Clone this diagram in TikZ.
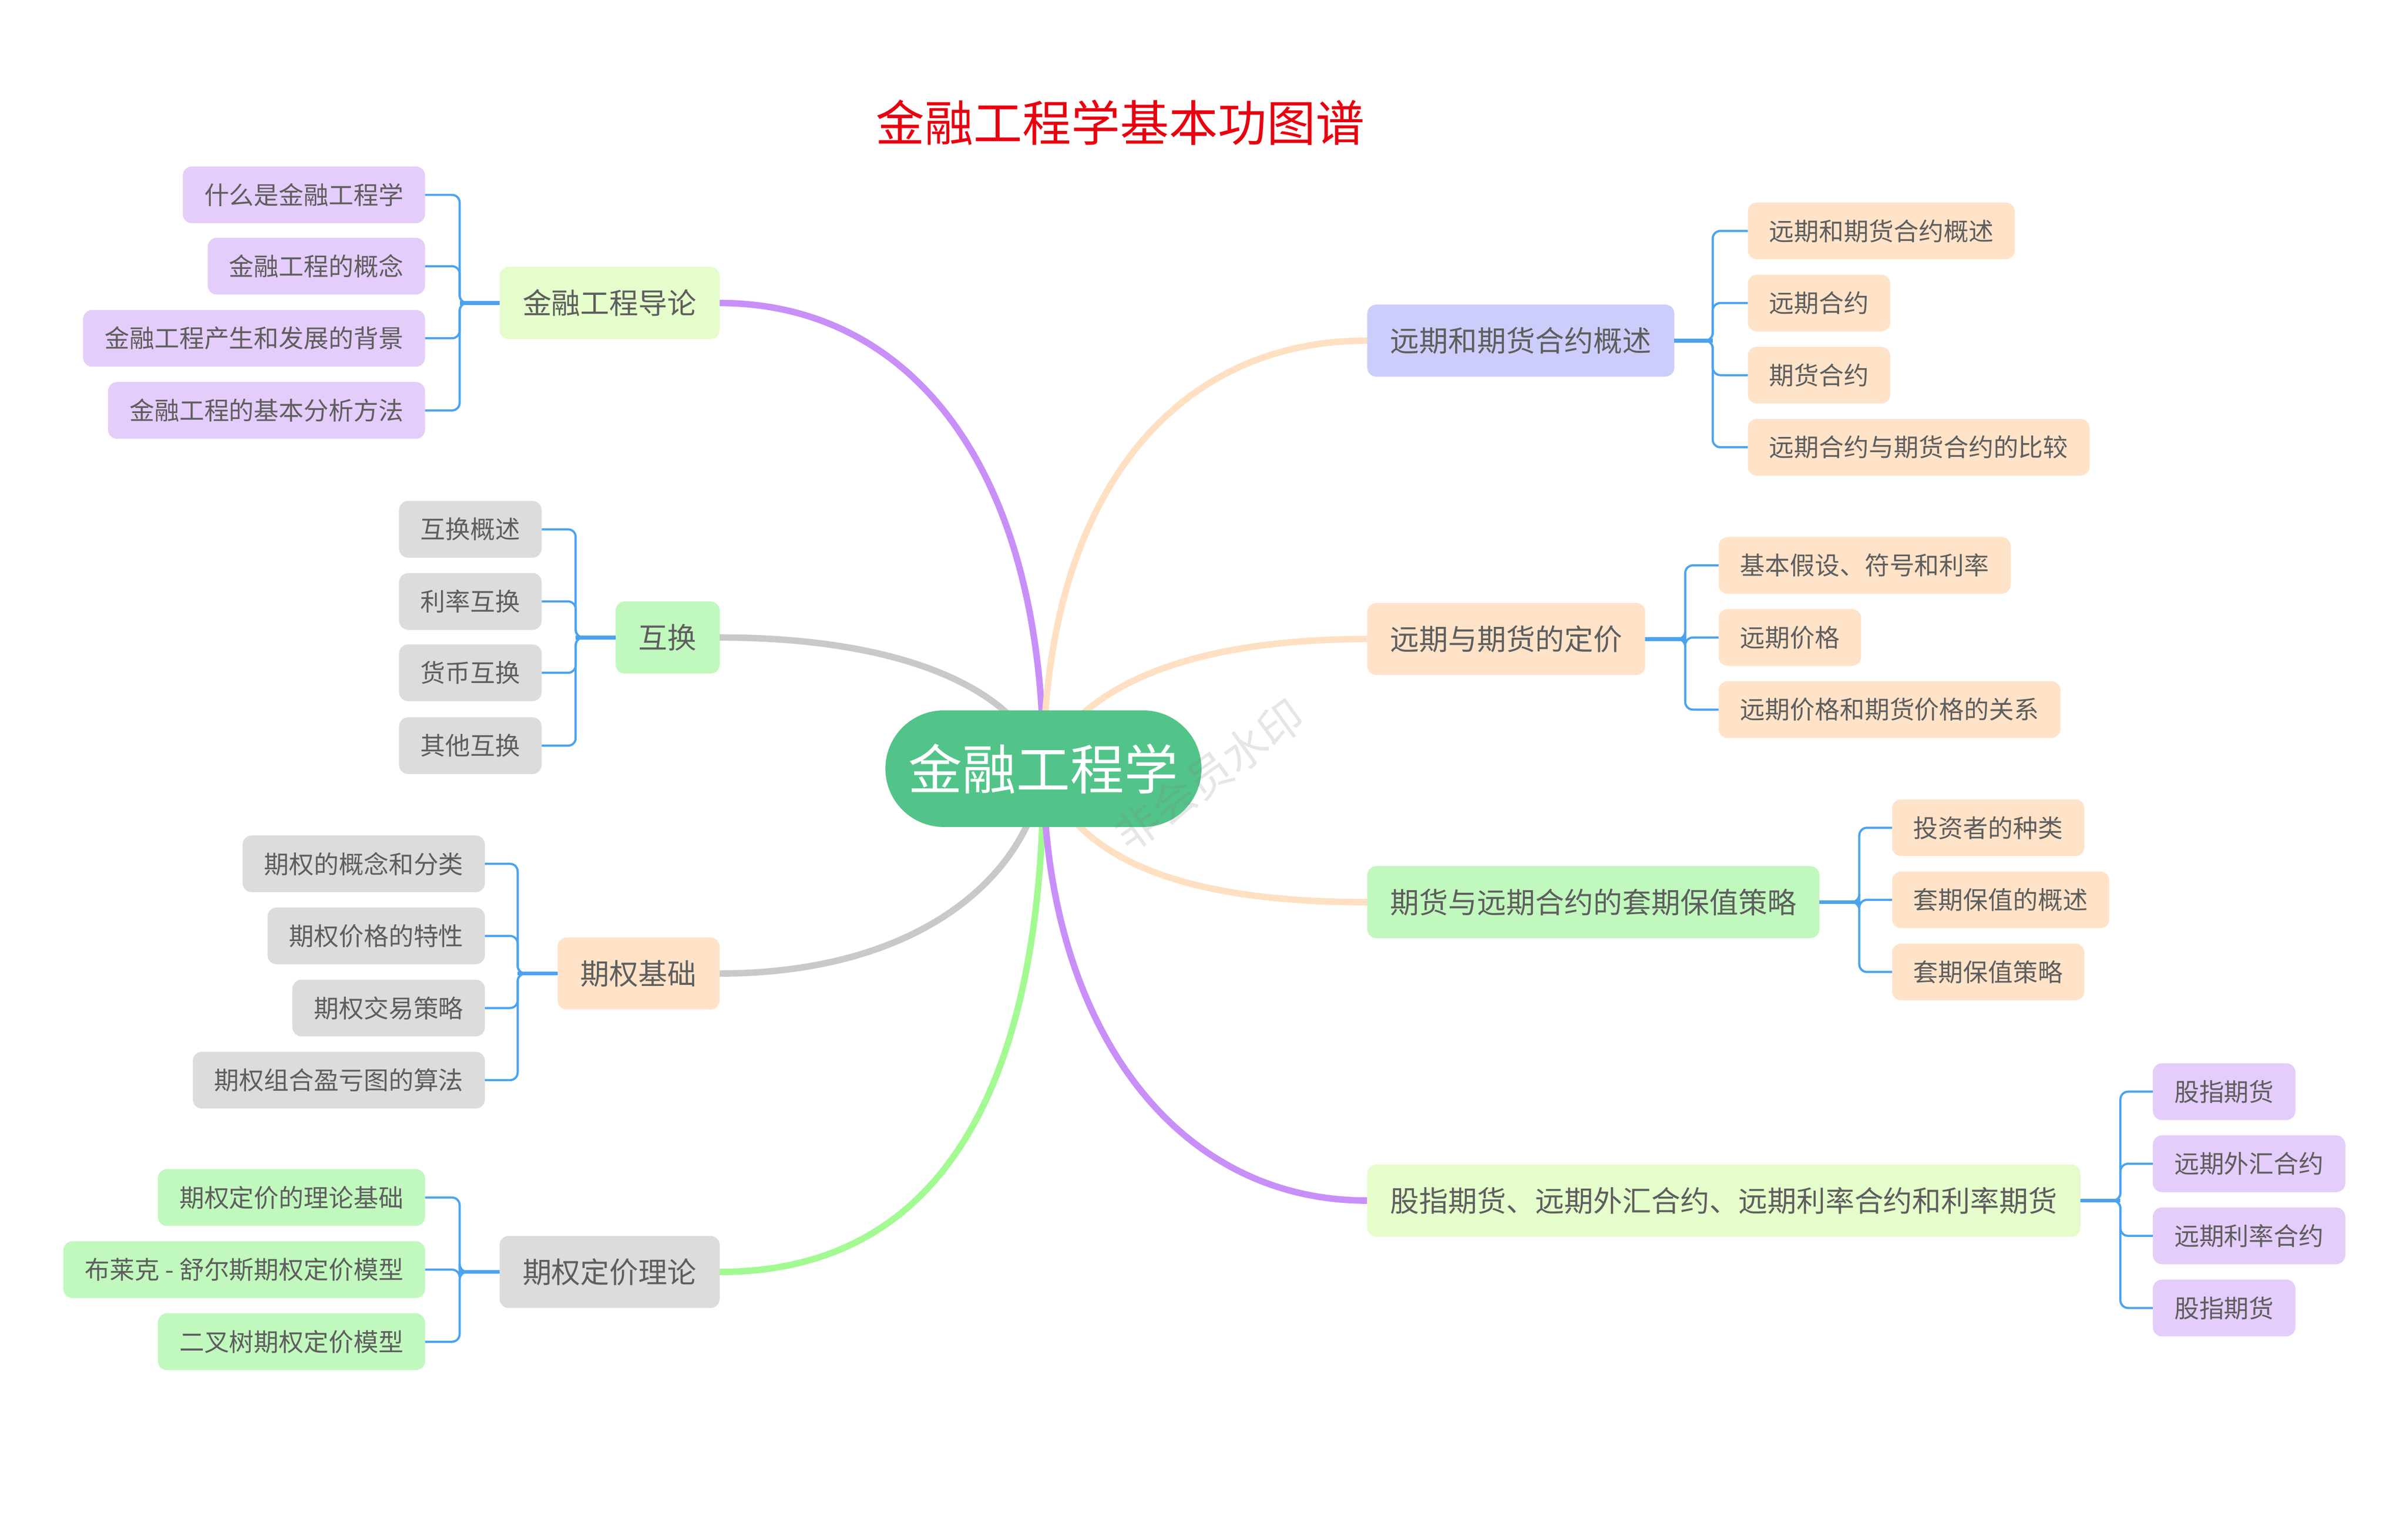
\documentclass[tikz,border=0pt]{standalone}
\usepackage{fontspec}
\newfontfamily\cjk{Noto Sans CJK SC}
\usetikzlibrary{backgrounds}
\definecolor{txt}{HTML}{5E5E5E}
\definecolor{titlered}{HTML}{E8000F}
\definecolor{rootgreen}{HTML}{52C48A}
\definecolor{lineblue}{HTML}{4BA3EF}
\definecolor{purpleline}{HTML}{C98FF8}
\definecolor{grayline}{HTML}{C9C9C9}
\definecolor{greenline}{HTML}{A3FA92}
\definecolor{peachline}{HTML}{FFE0C2}
\definecolor{purplebox}{HTML}{E4CDFA}
\definecolor{graybox}{HTML}{DCDCDC}
\definecolor{greenbox}{HTML}{C1F8BE}
\definecolor{peachbox}{HTML}{FFE3C9}
\definecolor{limebox}{HTML}{E5FCCB}
\definecolor{bluebox}{HTML}{CDCDFB}

\begin{document}
\begin{tikzpicture}[x=0.05cm,y=-0.05cm,
  leaf/.style={fill=#1,rounded corners=0.3cm,minimum height=1.85cm,inner xsep=0.7cm,inner ysep=0pt,outer sep=0pt,text=txt,font=\cjk\fontsize{23.1}{24}\selectfont},
  topic/.style={fill=#1,rounded corners=0.3cm,minimum height=2.35cm,inner xsep=0.75cm,inner ysep=0pt,outer sep=0pt,text=txt,font=\cjk\fontsize{26.9}{28}\selectfont},
  branch/.style={draw=#1,line width=6pt},
  bracket/.style={draw=lineblue,line width=2pt,rounded corners=0.25cm},
  stub/.style={draw=lineblue,line width=3.5pt}]
\useasboundingbox (0,0) rectangle (1568,1003.4);
\node[text=titlered,font=\cjk\fontsize{45.3}{48}\selectfont] (title) at (730,80) {金融工程学基本功图谱};
\node[fill=rootgreen,rounded corners=1.9cm,minimum height=3.8cm,minimum width=10.3cm,inner sep=0pt,text=white,font=\cjk\fontsize{50}{52}\selectfont] (root) at (680,501) {金融工程学};

\node[topic=limebox,anchor=east] (intro) at (469,197.5) {金融工程导论};
\node[topic=greenbox,anchor=east] (swap) at (469,415.5) {互换};
\node[topic=peachbox,anchor=east] (optbase) at (469,634.5) {期权基础};
\node[topic=graybox,anchor=east] (optprice) at (469,829) {期权定价理论};
\node[topic=bluebox,anchor=west] (fwd) at (891,222) {远期和期货合约概述};
\node[topic=peachbox,anchor=west] (pricing) at (891,416.5) {远期与期货的定价};
\node[topic=greenbox,anchor=west] (hedge) at (891,588) {期货与远期合约的套期保值策略};
\node[topic=limebox,anchor=west] (index) at (891,782.5) {股指期货、远期外汇合约、远期利率合约和利率期货};

\foreach \n/\y/\t in {i1/127/什么是金融工程学, i2/173.5/金融工程的概念, i3/220.5/金融工程产生和发展的背景, i4/267.5/金融工程的基本分析方法}
  {\node[leaf=purplebox,anchor=east] (\n) at (277,\y) {\t};
   \draw[bracket] (intro.west) -- ++(-26,0) |- (\n.east);}
\foreach \n/\y/\t in {s1/345/互换概述, s2/392/利率互换, s3/438.5/货币互换, s4/486/其他互换}
  {\node[leaf=graybox,anchor=east] (\n) at (353,\y) {\t};
   \draw[bracket] (swap.west) -- ++(-26,0) |- (\n.east);}
\foreach \n/\y/\t in {b1/563/期权的概念和分类, b2/610/期权价格的特性, b3/657/期权交易策略, b4/704/期权组合盈亏图的算法}
  {\node[leaf=graybox,anchor=east] (\n) at (316,\y) {\t};
   \draw[bracket] (optbase.west) -- ++(-26,0) |- (\n.east);}
\foreach \n/\y/\t in {p1/780.5/期权定价的理论基础, p2/827.5/布莱克 - 舒尔斯期权定价模型, p3/874.5/二叉树期权定价模型}
  {\node[leaf=greenbox,anchor=east] (\n) at (277,\y) {\t};
   \draw[bracket] (optprice.west) -- ++(-26,0) |- (\n.east);}
\foreach \n/\y/\t in {f1/150.5/远期和期货合约概述, f2/197.5/远期合约, f3/244.5/期货合约, f4/291.5/远期合约与期货合约的比较}
  {\node[leaf=peachbox,anchor=west] (\n) at (1139,\y) {\t};
   \draw[bracket] (fwd.east) -- ++(25,0) |- (\n.west);}
\foreach \n/\y/\t in {r1/368.5/基本假设、符号和利率, r2/415.5/远期价格, r3/462.5/远期价格和期货价格的关系}
  {\node[leaf=peachbox,anchor=west] (\n) at (1120,\y) {\t};
   \draw[bracket] (pricing.east) -- ++(26,0) |- (\n.west);}
\foreach \n/\y/\t in {h1/539.5/投资者的种类, h2/586.5/套期保值的概述, h3/633.5/套期保值策略}
  {\node[leaf=peachbox,anchor=west] (\n) at (1233,\y) {\t};
   \draw[bracket] (hedge.east) -- ++(26,0) |- (\n.west);}
\foreach \n/\y/\t in {x1/711.5/股指期货, x2/758.5/远期外汇合约, x3/805.5/远期利率合约, x4/852.5/股指期货}
  {\node[leaf=purplebox,anchor=west] (\n) at (1403,\y) {\t};
   \draw[bracket] (index.east) -- ++(26,0) |- (\n.west);}

\draw[stub] (intro.west) -- ++(-26,0);
\draw[stub] (swap.west) -- ++(-26,0);
\draw[stub] (optbase.west) -- ++(-26,0);
\draw[stub] (optprice.west) -- ++(-26,0);
\draw[stub] (fwd.east) -- ++(25,0);
\draw[stub] (pricing.east) -- ++(26,0);
\draw[stub] (hedge.east) -- ++(26,0);
\draw[stub] (index.east) -- ++(26,0);

\begin{scope}[on background layer]
\draw[branch=purpleline] (intro.east) .. controls (590,197.5) and (680,300) .. (root.center);
\draw[branch=grayline] (swap.east) .. controls (590,415.5) and (665,450) .. (root.center);
\draw[branch=grayline] (optbase.east) .. controls (600,634.5) and (672,570) .. (root.center);
\draw[branch=greenline] (optprice.east) .. controls (630,829) and (680,680) .. (root.center);
\draw[branch=peachline] (fwd.west) .. controls (760,222) and (680,330) .. (root.center);
\draw[branch=peachline] (pricing.west) .. controls (770,416.5) and (700,450) .. (root.center);
\draw[branch=peachline] (hedge.west) .. controls (770,588) and (700,560) .. (root.center);
\draw[branch=purpleline] (index.west) .. controls (760,782.5) and (680,660) .. (root.center);
\end{scope}

\node[rotate=36,text=gray,opacity=0.2,font=\cjk\fontsize{41}{43}\selectfont] (mark) at (788,505) {非会员水印};
\end{tikzpicture}
\end{document}
